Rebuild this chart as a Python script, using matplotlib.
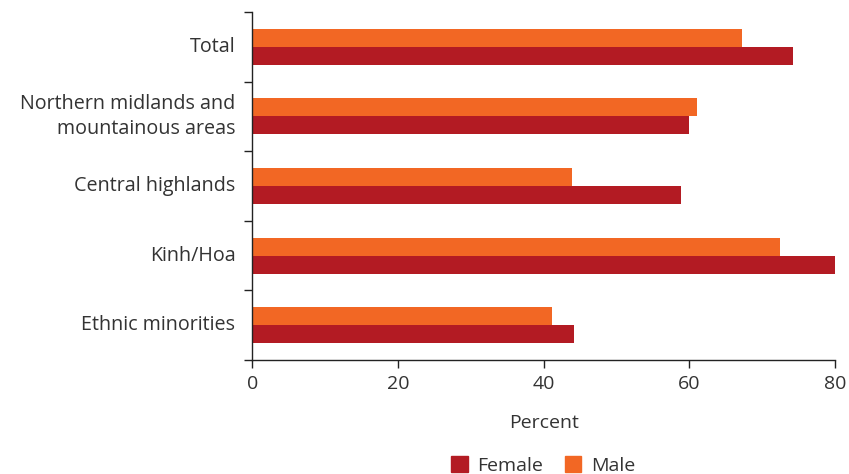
import numpy as np
import matplotlib.pyplot as plt
from matplotlib.patches import Patch

categorias = ["Total", "Northern midlands and\nmountainous areas", "Central highlands",
              "Kinh/Hoa", "Ethnic minorities"]
mujeres = [74.3, 59.9, 58.8, 80.0, 44.2]
hombres = [67.2, 61.1, 43.9, 72.5, 41.2]

color_f = "#B31B23"
color_m = "#F26724"
texto = "#333333"

plt.rcParams['font.family'] = ['Open Sans', 'DejaVu Sans']

fig = plt.figure(figsize=(8.49, 4.74), dpi=100)
ax = fig.add_axes([0.297, 0.2405, 0.6865, 0.7342])

n = len(categorias)
pos = np.arange(n)[::-1].astype(float)
alto = 0.26
ax.barh(pos + alto / 2, hombres, height=alto, color=color_m, label="Male")
ax.barh(pos - alto / 2, mujeres, height=alto, color=color_f, label="Female")

ax.set_xlim(0, 80)
ax.set_ylim(-0.5, n - 0.5)
ax.set_xticks([0, 20, 40, 60, 80])
ax.set_yticks(np.arange(-0.5, n, 1.0))
ax.set_yticklabels([])
for p, c in zip(pos, categorias):
    ax.text(-2.3, p, c, ha="right", va="center", fontsize=14.2, color=texto,
            linespacing=1.3)

for s in ["top", "right"]:
    ax.spines[s].set_visible(False)
for s in ["left", "bottom"]:
    ax.spines[s].set_color("#222222")
    ax.spines[s].set_linewidth(1.0)
ax.tick_params(axis="both", length=6, width=1.0, color="#222222",
               labelsize=14, labelcolor=texto)
ax.tick_params(axis="x", pad=5)

ax.set_xlabel("Percent", fontsize=14, color=texto, labelpad=15)

handles = [Patch(color=color_f, label="Female"), Patch(color=color_m, label="Male")]
fig.legend(handles=handles, loc="center", bbox_to_anchor=(0.64, 0.018), ncol=2,
           frameon=False, fontsize=14, handlelength=0.85, handleheight=0.85,
           handletextpad=0.5, columnspacing=1.1, labelcolor=texto)

fig.savefig("out.png", dpi=100)
